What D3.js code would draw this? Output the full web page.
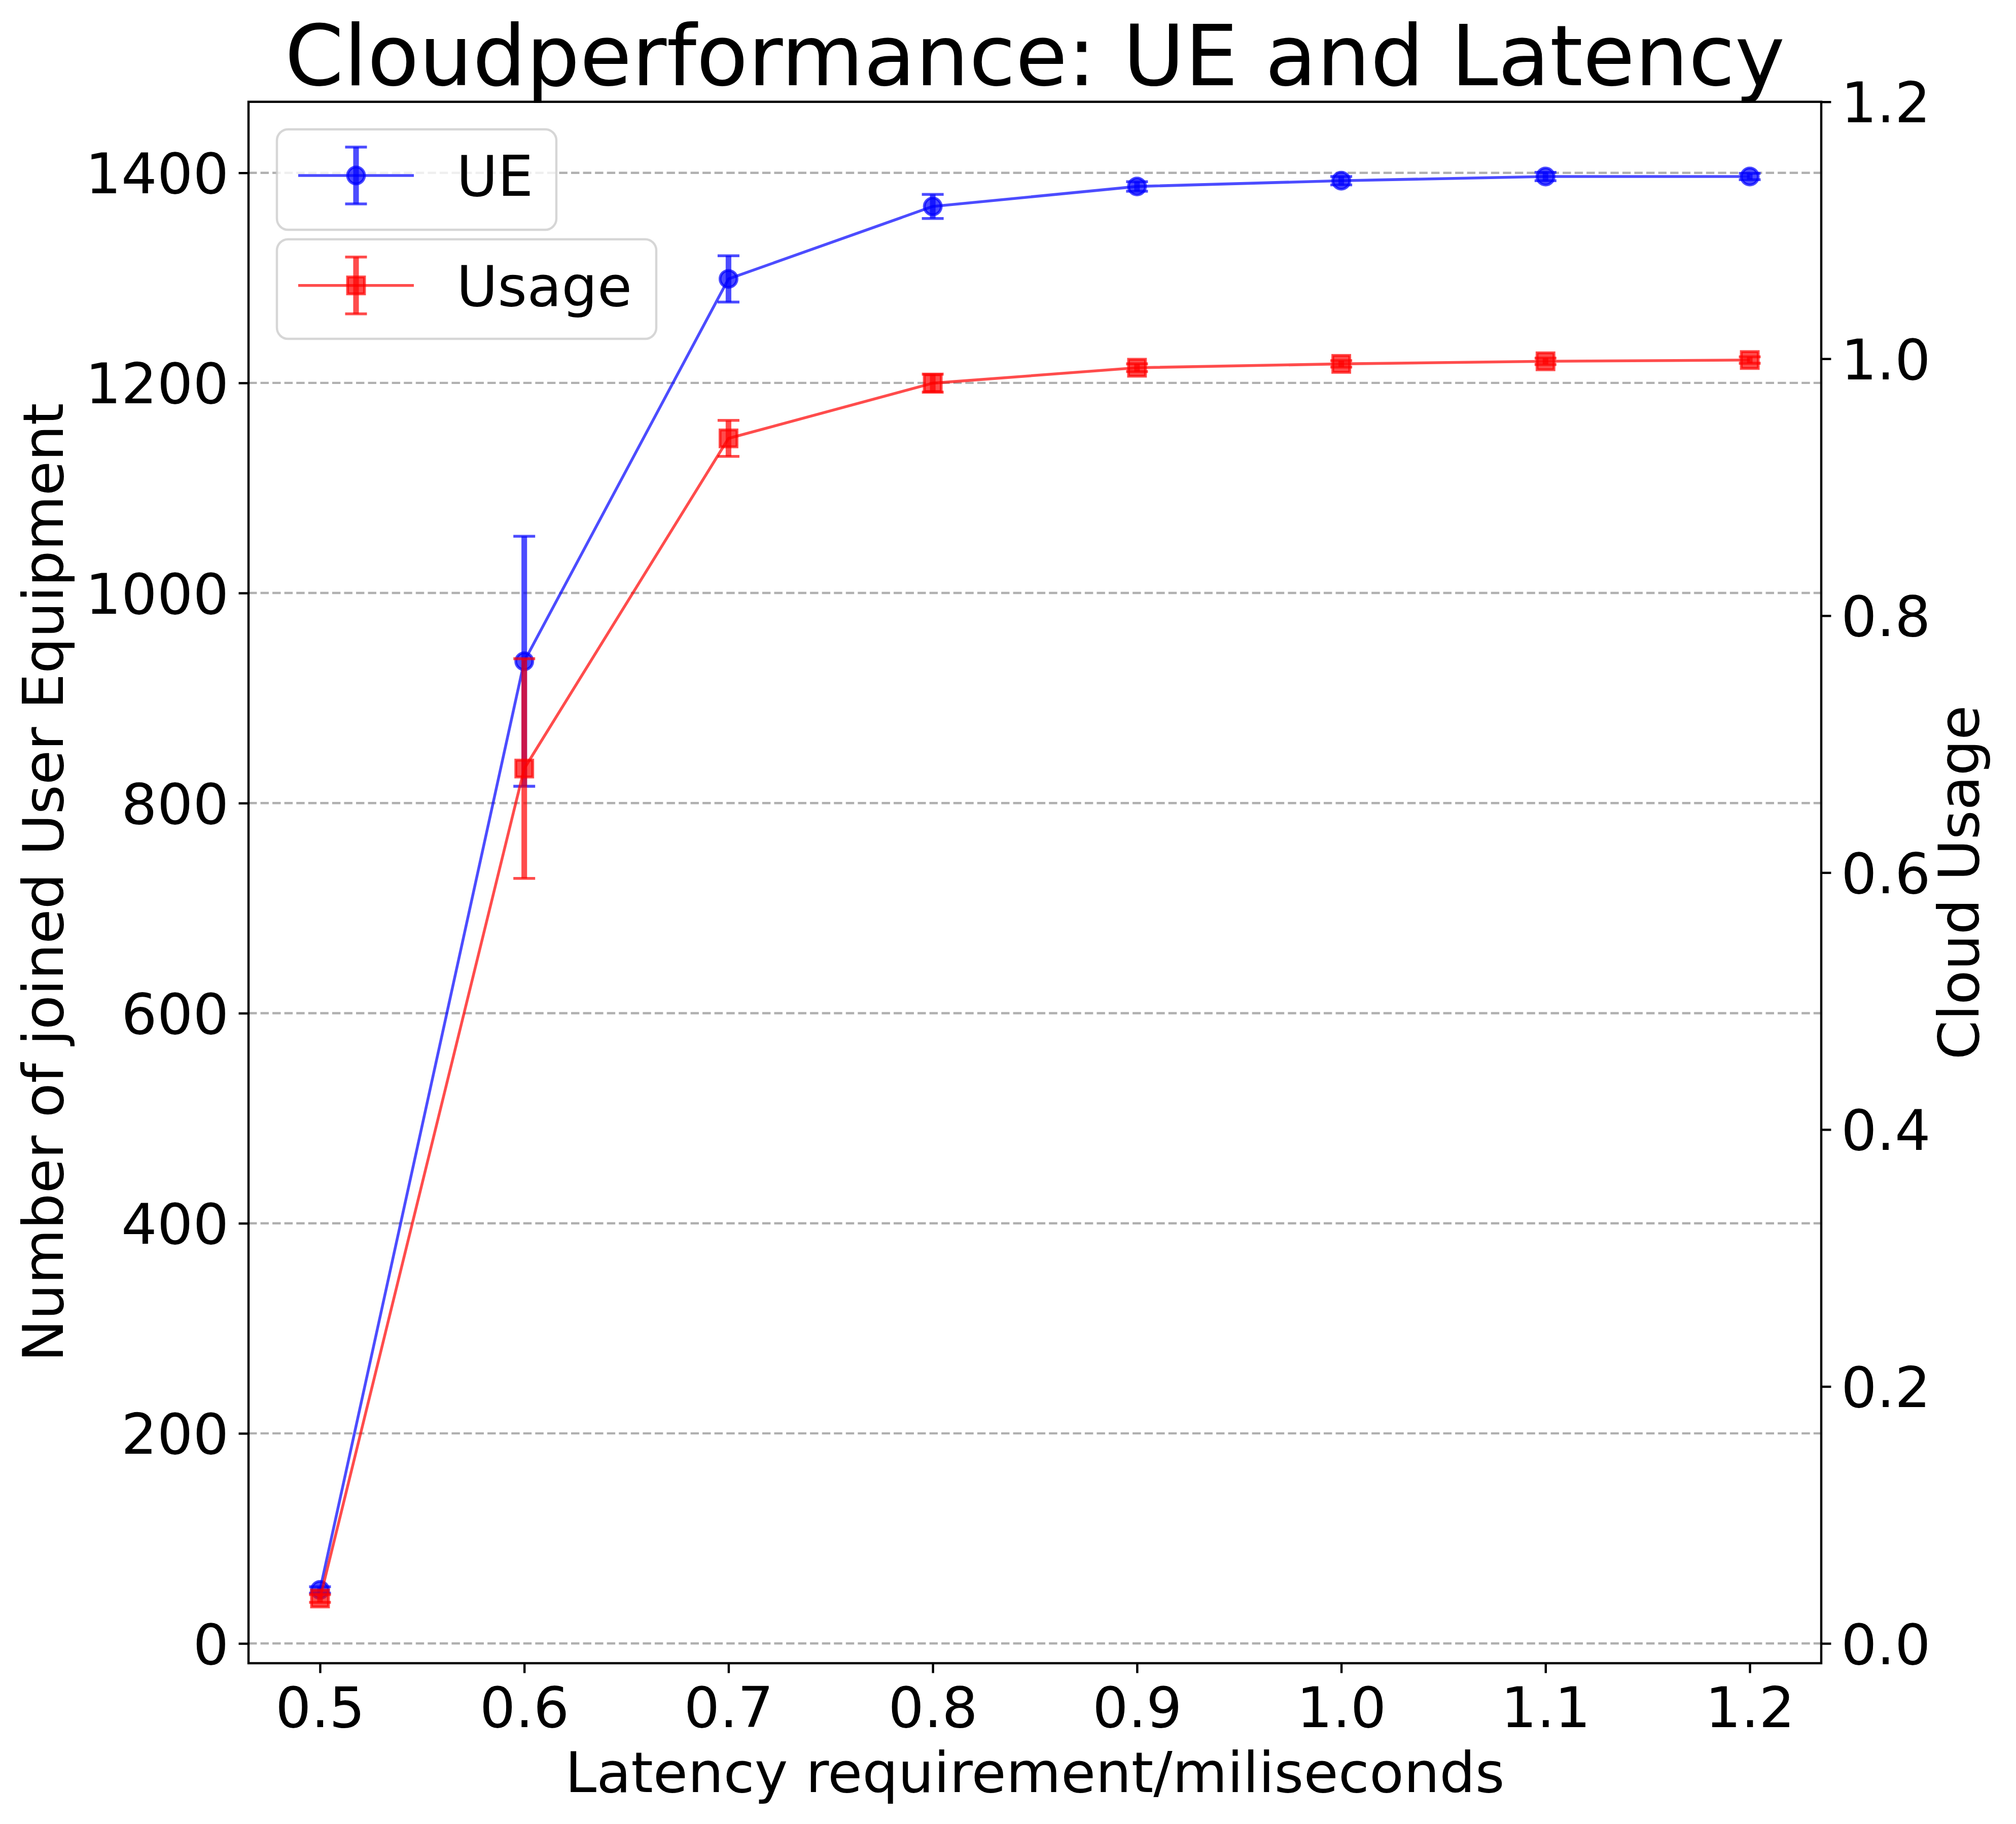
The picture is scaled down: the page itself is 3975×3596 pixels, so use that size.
<!DOCTYPE html>
<html>
<head>
<meta charset="utf-8">
<script src="https://cdn.jsdelivr.net/npm/d3@7"></script>
<style>
  html, body { margin: 0; padding: 0; background: #ffffff; }
  svg { display: block; }
  text { font-family: "DejaVu Sans", sans-serif; fill: #000; }
</style>
</head>
<body>
<div id="chart"></div>
<script>
// ---------------- data ----------------
const latency      = [0.5, 0.6, 0.7, 0.8, 0.9, 1.0, 1.1, 1.2];
const ueValues     = [51, 935, 1299, 1368, 1387, 1392.5, 1396.5, 1396.5];
const ueErrors     = [3, 119, 22, 11.5, 4.5, 4, 4, 3];
const usageValues  = [0.035, 0.681, 0.938, 0.981, 0.993, 0.996, 0.998, 0.999];
const usageErrors  = [0.003, 0.0855, 0.014, 0.007, 0.003, 0.0025, 0.0025, 0.0025];
const xTicks       = [0.5, 0.6, 0.7, 0.8, 0.9, 1.0, 1.1, 1.2];
const leftTicks    = [0, 200, 400, 600, 800, 1000, 1200, 1400];
const rightTicks   = [0.0, 0.2, 0.4, 0.6, 0.8, 1.0, 1.2];
const seriesNames  = ["UE", "Usage"];
const titleText    = "Cloudperformance: UE and Latency";
const xLabelText   = "Latency requirement/miliseconds";
const yLeftLabel   = "Number of joined User Equipment";
const yRightLabel  = "Cloud Usage";

// ---------------- layout ----------------
const W = 3975, H = 3596;
const L = 490, R = 3591, T = 200.7, B = 3279;
const PT = 400 / 72;              // px per point
const FS = 20 * PT;               // 111 px
const TITLE_FS = 30 * PT;
const TICK_LEN = 3.5 * PT, TICK_PAD = 3.5 * PT;
const AX_LW = 0.8 * PT;

const x  = d3.scaleLinear().domain([0.465, 1.235]).range([L, R]);
const yL = d3.scaleLinear().domain([-18.8, 1467.6]).range([B, T]);
const yR = d3.scaleLinear().domain([-0.0154, 1.2]).range([B, T]);

const svg = d3.select("#chart").append("svg")
  .attr("width", W).attr("height", H)
  .attr("viewBox", `0 0 ${W} ${H}`);

svg.append("rect").attr("width", W).attr("height", H).attr("fill", "#fff");

// grid (left axis ticks)
svg.append("g").selectAll("line").data(leftTicks).join("line")
  .attr("x1", L).attr("x2", R)
  .attr("y1", d => yL(d)).attr("y2", d => yL(d))
  .attr("stroke", "#b0b0b0").attr("stroke-width", 0.8 * PT)
  .attr("stroke-dasharray", `${3.7 * 0.8 * PT} ${1.6 * 0.8 * PT}`);

// ---------------- series drawing ----------------
function drawSeries(g, yScale, vals, errs, color, shape) {
  const MS = 6 * PT, MEW = 1.0 * PT, LW = 1.0 * PT, ELW = 2.0 * PT;
  const CAP = 21.5, CAPW = 1.0 * PT;
  // error bars
  g.append("g").selectAll("line").data(latency).join("line")
    .attr("x1", d => x(d)).attr("x2", d => x(d))
    .attr("y1", (d, i) => yScale(vals[i] - errs[i]))
    .attr("y2", (d, i) => yScale(vals[i] + errs[i]))
    .attr("stroke", color).attr("stroke-opacity", 0.7)
    .attr("stroke-width", ELW);
  // data line
  g.append("path")
    .datum(latency.map((d, i) => [d, vals[i]]))
    .attr("d", d3.line().x(d => x(d[0])).y(d => yScale(d[1])))
    .attr("fill", "none").attr("stroke", color).attr("stroke-opacity", 0.7)
    .attr("stroke-width", LW).attr("stroke-linejoin", "round");
  // markers
  const mk = g.append("g").selectAll(shape).data(latency).join(shape)
    .attr("fill", color).attr("fill-opacity", 0.7)
    .attr("stroke", color).attr("stroke-opacity", 0.7)
    .attr("stroke-width", MEW);
  if (shape === "circle") {
    mk.attr("cx", d => x(d)).attr("cy", (d, i) => yScale(vals[i])).attr("r", MS / 2);
  } else {
    mk.attr("x", d => x(d) - MS / 2).attr("y", (d, i) => yScale(vals[i]) - MS / 2)
      .attr("width", MS).attr("height", MS);
  }
  // caps
  const caps = [];
  latency.forEach((d, i) => {
    caps.push([d, vals[i] - errs[i]]);
    caps.push([d, vals[i] + errs[i]]);
  });
  g.append("g").selectAll("line").data(caps).join("line")
    .attr("x1", d => x(d[0]) - CAP).attr("x2", d => x(d[0]) + CAP)
    .attr("y1", d => yScale(d[1])).attr("y2", d => yScale(d[1]))
    .attr("stroke", color).attr("stroke-opacity", 0.7)
    .attr("stroke-width", CAPW);
}

function drawLegend(g, box, rowY, label, color, shape) {
  const MS = 6 * PT, MEW = 1.0 * PT;
  g.append("rect")
    .attr("x", box[0]).attr("y", box[1])
    .attr("width", box[2] - box[0]).attr("height", box[3] - box[1])
    .attr("rx", 22).attr("ry", 22)
    .attr("fill", "#fff").attr("fill-opacity", 0.8)
    .attr("stroke", "#cccccc").attr("stroke-opacity", 0.8)
    .attr("stroke-width", 0.8 * PT);
  const hx0 = 588, hx1 = 816, hc = 702;
  g.append("line").attr("x1", hc).attr("x2", hc)
    .attr("y1", rowY - 56).attr("y2", rowY + 56)
    .attr("stroke", color).attr("stroke-opacity", 0.7).attr("stroke-width", 2 * PT);
  g.append("line").attr("x1", hx0).attr("x2", hx1)
    .attr("y1", rowY).attr("y2", rowY)
    .attr("stroke", color).attr("stroke-opacity", 0.7).attr("stroke-width", 1 * PT);
  if (shape === "circle") {
    g.append("circle").attr("cx", hc).attr("cy", rowY).attr("r", MS / 2)
      .attr("fill", color).attr("fill-opacity", 0.7)
      .attr("stroke", color).attr("stroke-opacity", 0.7).attr("stroke-width", MEW);
  } else {
    g.append("rect").attr("x", hc - MS / 2).attr("y", rowY - MS / 2)
      .attr("width", MS).attr("height", MS)
      .attr("fill", color).attr("fill-opacity", 0.7)
      .attr("stroke", color).attr("stroke-opacity", 0.7).attr("stroke-width", MEW);
  }
  [rowY - 56, rowY + 56].forEach(cy => {
    g.append("line").attr("x1", hc - 21.5).attr("x2", hc + 21.5)
      .attr("y1", cy).attr("y2", cy)
      .attr("stroke", color).attr("stroke-opacity", 0.7).attr("stroke-width", 1 * PT);
  });
  g.append("text").attr("x", 900).attr("y", rowY + 40)
    .attr("font-size", FS).text(label);
}

// ax1 content
const ax1 = svg.append("g");
drawSeries(ax1, yL, ueValues, ueErrors, "#0000ff", "circle");
drawLegend(ax1, [546, 255, 1097, 453], 346, seriesNames[0], "#0000ff", "circle");

// ax2 content
const ax2 = svg.append("g");
drawSeries(ax2, yR, usageValues, usageErrors, "#ff0000", "rect");
drawLegend(ax2, [546, 471.7, 1294, 668], 562.7, seriesNames[1], "#ff0000", "rect");

// ---------------- axes ----------------
function styleAxis(g) {
  g.select(".domain").remove();
  g.selectAll(".tick line").attr("stroke", "#000").attr("stroke-width", AX_LW);
  g.selectAll(".tick text").attr("font-size", FS)
    .attr("font-family", "DejaVu Sans, sans-serif").attr("fill", "#000");
}

const gx = svg.append("g").attr("transform", `translate(0,${B})`)
  .call(d3.axisBottom(x).tickValues(xTicks).tickFormat(d3.format(".1f"))
    .tickSize(TICK_LEN).tickPadding(TICK_PAD));
styleAxis(gx);
gx.selectAll(".tick text").attr("dy", null).attr("y", 3405 - B);

const gyl = svg.append("g").attr("transform", `translate(${L},0)`)
  .call(d3.axisLeft(yL).tickValues(leftTicks).tickFormat(d3.format("d"))
    .tickSize(TICK_LEN).tickPadding(TICK_PAD));
styleAxis(gyl);
gyl.selectAll(".tick text").attr("dy", "0.36em");

const gyr = svg.append("g").attr("transform", `translate(${R},0)`)
  .call(d3.axisRight(yR).tickValues(rightTicks).tickFormat(d3.format(".1f"))
    .tickSize(TICK_LEN).tickPadding(TICK_PAD));
styleAxis(gyr);
gyr.selectAll(".tick text").attr("dy", "0.36em");

// spines
svg.append("rect").attr("x", L).attr("y", T)
  .attr("width", R - L).attr("height", B - T)
  .attr("fill", "none").attr("stroke", "#000").attr("stroke-width", AX_LW);

// ---------------- labels ----------------
svg.append("text").attr("x", (L + R) / 2).attr("y", 168)
  .attr("text-anchor", "middle").attr("font-size", TITLE_FS).text(titleText);

svg.append("text").attr("x", (L + R) / 2).attr("y", 3533)
  .attr("text-anchor", "middle").attr("font-size", FS).text(xLabelText);

svg.append("text")
  .attr("transform", `translate(124,${(T + B) / 2}) rotate(-90)`)
  .attr("text-anchor", "middle").attr("font-size", FS).text(yLeftLabel);

svg.append("text")
  .attr("transform", `translate(3901,${(T + B) / 2}) rotate(-90)`)
  .attr("text-anchor", "middle").attr("font-size", FS).text(yRightLabel);
</script>
</body>
</html>
